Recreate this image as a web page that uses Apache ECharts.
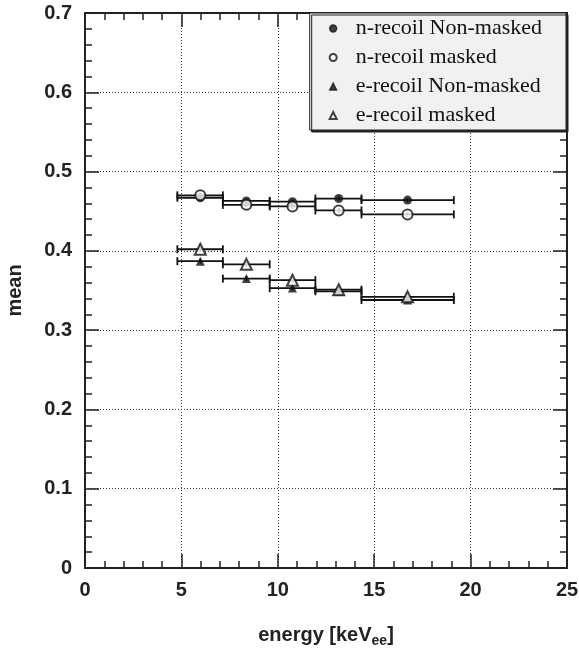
<!DOCTYPE html>
<html>
<head>
<meta charset="utf-8">
<script src="https://cdn.jsdelivr.net/npm/echarts@6/dist/echarts.min.js"></script>
<style>
  html, body { margin: 0; padding: 0; background: #fff; }
  #chart { width: 579px; height: 648px; }
</style>
</head>
<body>
<div id="chart"></div>
<script>
/* data */
var energy = [5.98, 8.37, 10.76, 13.16, 16.73];
var binLow = [4.79, 7.15, 9.58, 11.95, 14.34];
var binHigh = [7.15, 9.58, 11.95, 14.34, 19.13];
var nNonMasked = [0.467, 0.463, 0.462, 0.466, 0.464];
var nMasked = [0.470, 0.458, 0.456, 0.451, 0.446];
var eNonMasked = [0.387, 0.365, 0.353, 0.349, 0.338];
var eMasked = [0.402, 0.383, 0.363, 0.351, 0.342];
var yErr = [0.003, 0.003, 0.003, 0.003, 0.003];

var legendNames = ['n-recoil Non-masked', 'n-recoil masked', 'e-recoil Non-masked', 'e-recoil masked'];

function points(vals) {
  var out = [];
  for (var i = 0; i < energy.length; i++) out.push([energy[i], vals[i]]);
  return out;
}
function bars(vals) {
  var out = [];
  for (var i = 0; i < energy.length; i++) out.push([energy[i], vals[i], binLow[i], binHigh[i], yErr[i]]);
  return out;
}

/* horizontal error bar with end caps */
function errBar(params, api) {
  var lo = api.coord([api.value(2), api.value(1)]);
  var hi = api.coord([api.value(3), api.value(1)]);
  var c = api.coord([api.value(0), api.value(1)]);
  var top = api.coord([api.value(0), api.value(1) + api.value(4)]);
  var bot = api.coord([api.value(0), api.value(1) - api.value(4)]);
  var st = { stroke: '#111', lineWidth: 1.8 };
  return {
    type: 'group',
    children: [
      { type: 'line', shape: { x1: lo[0], y1: lo[1], x2: hi[0], y2: hi[1] }, style: st },
      { type: 'line', shape: { x1: lo[0], y1: lo[1] - 4, x2: lo[0], y2: lo[1] + 4 }, style: st },
      { type: 'line', shape: { x1: hi[0], y1: hi[1] - 4, x2: hi[0], y2: hi[1] + 4 }, style: st },
      { type: 'line', shape: { x1: c[0], y1: top[1], x2: c[0], y2: bot[1] }, style: st }
    ]
  };
}

var axisFont = { fontFamily: 'Liberation Sans', fontWeight: 'bold', fontSize: 20, color: '#222' };
var frameLine = { show: true, onZero: false, lineStyle: { color: '#222', width: 2 } };
var tick = { show: true, inside: true, length: 14, lineStyle: { color: '#222', width: 1.5 } };
var minor = { show: true, splitNumber: 5, length: 7, lineStyle: { color: '#222', width: 1.5 } };
var grid = { show: true, lineStyle: { color: '#333', type: [1, 2], width: 1 } };

var chart = echarts.init(document.getElementById('chart'));
chart.setOption({
  animation: false,
  backgroundColor: '#fff',
  grid: { left: 85, top: 13, right: 12, bottom: 80, outerBoundsMode: 'none' },
  legend: {
    data: [
      { name: legendNames[0], icon: 'circle' },
      { name: legendNames[1], icon: 'emptyCircle' },
      { name: legendNames[2], icon: 'triangle' },
      { name: legendNames[3], icon: 'emptyTriangle' }
    ],
    orient: 'vertical',
    right: 13,
    top: 13,
    itemWidth: 7,
    itemHeight: 7,
    itemGap: 6,
    padding: [4, 24, 3, 19],
    backgroundColor: '#f0f1f0',
    borderColor: '#222',
    borderWidth: 1,
    shadowColor: '#222',
    shadowOffsetX: 2,
    shadowOffsetY: 2,
    borderRadius: 0,
    itemStyle: { color: '#111', borderColor: '#111', borderWidth: 1.3 },
    textStyle: { fontFamily: 'Liberation Serif', fontSize: 22, lineHeight: 23, color: '#111', padding: [0, 0, 0, 14] }
  },
  xAxis: [{
    type: 'value', min: 0, max: 25, interval: 5,
    name: 'energy [keV{sub|ee}]',
    nameLocation: 'middle', nameGap: 54,
    nameTextStyle: {
      fontFamily: 'Liberation Sans', fontWeight: 'bold', fontSize: 20, color: '#222',
      rich: { sub: { fontFamily: 'Liberation Sans', fontWeight: 'bold', fontSize: 14, color: '#222', verticalAlign: 'bottom', padding: [12, 0, 0, 0] } }
    },
    axisLine: frameLine, axisTick: tick, minorTick: minor,
    axisLabel: Object.assign({ margin: 12 }, axisFont),
    splitLine: grid
  }, {
    type: 'value', min: 0, max: 25, interval: 5, position: 'top',
    axisLine: frameLine, axisTick: tick, minorTick: minor,
    axisLabel: { show: false }, splitLine: { show: false }
  }],
  yAxis: [{
    type: 'value', min: 0, max: 0.7, interval: 0.1,
    name: 'mean',
    nameLocation: 'middle', nameGap: 60,
    nameTextStyle: { fontFamily: 'Liberation Sans', fontWeight: 'bold', fontSize: 20, color: '#222' },
    axisLine: frameLine, axisTick: tick, minorTick: minor,
    axisLabel: Object.assign({ margin: 13, formatter: function (v) { return v === 0 ? '0' : v.toFixed(1); } }, axisFont),
    splitLine: grid
  }, {
    type: 'value', min: 0, max: 0.7, interval: 0.1, position: 'right',
    axisLine: frameLine, axisTick: tick, minorTick: minor,
    axisLabel: { show: false }, splitLine: { show: false }
  }],
  series: [
    { type: 'custom', name: 'errN1', renderItem: errBar, data: bars(nNonMasked), z: 2 },
    { type: 'custom', name: 'errN2', renderItem: errBar, data: bars(nMasked), z: 2 },
    { type: 'custom', name: 'errE1', renderItem: errBar, data: bars(eNonMasked), z: 2 },
    { type: 'custom', name: 'errE2', renderItem: errBar, data: bars(eMasked), z: 2 },
    { type: 'scatter', name: legendNames[0], symbol: 'circle', symbolSize: 9,
      itemStyle: { color: '#111' }, data: points(nNonMasked), z: 3 },
    { type: 'scatter', name: legendNames[1], symbol: 'emptyCircle', symbolSize: 10,
      itemStyle: { color: '#111', borderColor: '#111', borderWidth: 1.6 }, data: points(nMasked), z: 3 },
    { type: 'scatter', name: legendNames[2], symbol: 'triangle', symbolSize: 9,
      itemStyle: { color: '#111' }, data: points(eNonMasked), z: 3 },
    { type: 'scatter', name: legendNames[3], symbol: 'emptyTriangle', symbolSize: 11,
      itemStyle: { color: '#111', borderColor: '#111', borderWidth: 1.6 }, data: points(eMasked), z: 3 }
  ]
});
</script>
</body>
</html>
